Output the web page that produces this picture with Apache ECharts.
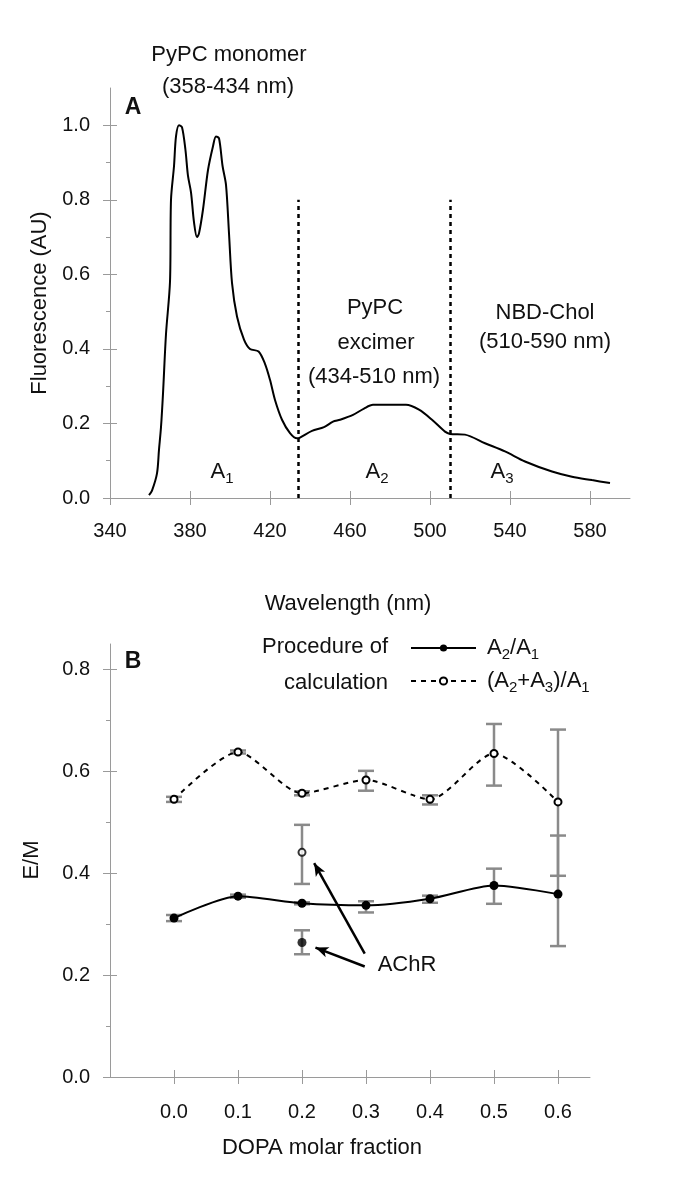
<!DOCTYPE html>
<html>
<head>
<meta charset="utf-8">
<script src="https://cdn.jsdelivr.net/npm/echarts@6/dist/echarts.min.js"></script>
<style>
  html, body { margin: 0; padding: 0; background: #fff; }
  #chart { width: 685px; height: 1182px; }
</style>
</head>
<body>
<div id="chart"></div>
<script>
// ---- panel A : emission spectrum [wavelength (nm), fluorescence (AU)]
var spectrum = [
  [359.5, 0.008], [361, 0.02], [363.5, 0.066], [364.5, 0.13], [365.5, 0.19],
  [366.5, 0.28], [368, 0.44], [370, 0.58], [370.5, 0.80], [372, 0.89],
  [373, 0.97], [374.5, 1.0], [376, 0.995], [377.7, 0.935], [379, 0.864],
  [380.5, 0.82], [382, 0.74], [383.5, 0.70], [384.5, 0.71], [386.5, 0.774],
  [389, 0.88], [391.5, 0.944], [393, 0.97], [394.5, 0.965], [396.3, 0.89],
  [398, 0.84], [399.5, 0.71], [401, 0.577], [403.5, 0.487], [407, 0.425],
  [410, 0.40], [414.3, 0.393], [417.5, 0.36], [420, 0.317], [422.5, 0.263],
  [426, 0.21], [430, 0.174], [433.5, 0.16], [435, 0.162], [441, 0.18],
  [447, 0.19], [451.5, 0.205], [455, 0.21], [461.5, 0.223], [467, 0.24],
  [471.5, 0.25], [480, 0.25], [488, 0.25], [494.5, 0.237], [501, 0.21],
  [507.5, 0.178], [510, 0.172], [517.5, 0.17], [527.5, 0.147], [537.5, 0.125],
  [547.5, 0.098], [561, 0.071], [571, 0.057], [581, 0.048], [590, 0.040]
];
var regionBounds = [434, 510];
var boundTop = 0.8;
var wavelengthTicks = [340, 380, 420, 460, 500, 540, 580];
var fluorTicks = [0, 0.2, 0.4, 0.6, 0.8, 1.0];
var fluorMinor = [0.1, 0.3, 0.5, 0.7, 0.9];

// ---- panel B : E/M vs DOPA molar fraction
var fractions = [0, 0.1, 0.2, 0.3, 0.4, 0.5, 0.6];
var seriesNames = ['A2/A1', '(A2+A3)/A1'];
var ratioA2 = [0.312, 0.355, 0.341, 0.337, 0.350, 0.376, 0.359];
var ratioA2Low = [0.306, 0.352, 0.339, 0.323, 0.342, 0.340, 0.257];
var ratioA2High = [0.318, 0.358, 0.343, 0.345, 0.356, 0.409, 0.474];
var ratioA23 = [0.545, 0.638, 0.557, 0.583, 0.545, 0.635, 0.540];
var ratioA23Low = [0.540, 0.635, 0.553, 0.562, 0.535, 0.572, 0.395];
var ratioA23High = [0.550, 0.641, 0.561, 0.601, 0.553, 0.693, 0.682];
// AChR samples (x, mean, low, high)
var achrA2 = [0.2, 0.264, 0.241, 0.288];
var achrA23 = [0.2, 0.441, 0.379, 0.495];
var achrArrows = [
  [[0.298, 0.242], [0.219, 0.42]],
  [[0.298, 0.217], [0.221, 0.254]]
];
var fractionTicks = [0, 0.1, 0.2, 0.3, 0.4, 0.5, 0.6];
var emTicks = [0, 0.2, 0.4, 0.6, 0.8];
var emMinor = [0.1, 0.3, 0.5, 0.7];

var FONT = '"Liberation Sans", Arial, sans-serif';
var AXIS_COLOR = '#9a9a9a';
var TEXT_COLOR = '#111';

var chart = echarts.init(document.getElementById('chart'), null, { renderer: 'canvas' });

function fmt1(v) { return (+v).toFixed(1); }

// three overlapped y axes per grid: labels + outer tick, inner tick, minor tick
function makeYAxes(gridIndex, min, max, major, minor) {
  var base = { type: 'value', gridIndex: gridIndex, min: min, max: max, position: 'left', offset: 0, splitLine: { show: false } };
  return [
    Object.assign({}, base, {
      axisLine: { show: true, onZero: false, lineStyle: { color: AXIS_COLOR, width: 1 } },
      axisTick: { show: true, customValues: major, length: 7, lineStyle: { color: AXIS_COLOR } },
      axisLabel: { customValues: major, formatter: fmt1, margin: 20, fontSize: 20, color: TEXT_COLOR, fontFamily: FONT }
    }),
    Object.assign({}, base, {
      axisLine: { show: false, onZero: false },
      axisTick: { show: true, inside: true, customValues: major, length: 7, lineStyle: { color: AXIS_COLOR } },
      axisLabel: { show: false }
    }),
    Object.assign({}, base, {
      axisLine: { show: false, onZero: false },
      axisTick: { show: true, customValues: minor, length: 4, lineStyle: { color: AXIS_COLOR } },
      axisLabel: { show: false }
    })
  ];
}

function makeXAxes(gridIndex, min, max, ticks, formatter, margin) {
  var base = { type: 'value', gridIndex: gridIndex, min: min, max: max, position: 'bottom', offset: 0, splitLine: { show: false } };
  return [
    Object.assign({}, base, {
      axisLine: { show: true, onZero: false, lineStyle: { color: AXIS_COLOR, width: 1 } },
      axisTick: { show: true, customValues: ticks, length: 7, lineStyle: { color: AXIS_COLOR } },
      axisLabel: { customValues: ticks, formatter: formatter, margin: margin, fontSize: 20, color: TEXT_COLOR, fontFamily: FONT }
    }),
    Object.assign({}, base, {
      axisLine: { show: false, onZero: false },
      axisTick: { show: true, inside: true, customValues: ticks, length: 7, lineStyle: { color: AXIS_COLOR } },
      axisLabel: { show: false }
    })
  ];
}

function errorBars(xAxisIndex, yAxisIndex, data) {
  return {
    type: 'custom',
    xAxisIndex: xAxisIndex,
    yAxisIndex: yAxisIndex,
    silent: true,
    z: 1,
    encode: { x: 0, y: [1, 2] },
    data: data,
    renderItem: function (params, api) {
      var x = api.value(0);
      var lo = api.coord([x, api.value(1)]);
      var hi = api.coord([x, api.value(2)]);
      var hw = 8;
      var st = { stroke: '#8a8a8a', lineWidth: 2.5, fill: null };
      return {
        type: 'group',
        children: [
          { type: 'line', shape: { x1: lo[0], y1: lo[1], x2: hi[0], y2: hi[1] }, style: st },
          { type: 'line', shape: { x1: lo[0] - hw, y1: lo[1], x2: lo[0] + hw, y2: lo[1] }, style: st },
          { type: 'line', shape: { x1: hi[0] - hw, y1: hi[1], x2: hi[0] + hw, y2: hi[1] }, style: st }
        ]
      };
    }
  };
}

var rich = {
  n: { fontSize: 22, fontFamily: FONT, color: TEXT_COLOR, lineHeight: 28 },
  s: { fontSize: 15, fontFamily: FONT, color: TEXT_COLOR, lineHeight: 17, verticalAlign: 'bottom' }
};
var legendLabels = {
  'A2/A1': '{n|A}{s|2}{n|/A}{s|1}',
  '(A2+A3)/A1': '{n|(A}{s|2}{n|+A}{s|3}{n|)/A}{s|1}'
};

function txt(x, y, text, opt) {
  opt = opt || {};
  return {
    type: 'text',
    x: x, y: y,
    rotation: opt.rotation || 0,
    silent: true,
    style: {
      text: text,
      font: (opt.bold ? 'bold ' : '') + (opt.size || 22) + 'px ' + FONT,
      fill: TEXT_COLOR,
      align: opt.align || 'center',
      verticalAlign: 'middle',
      rich: opt.rich
    }
  };
}

var yA = makeYAxes(0, 0, 1.1, fluorTicks, fluorMinor);
var yB = makeYAxes(1, 0, 0.85, emTicks, emMinor);
var xA = makeXAxes(0, 340, 600, wavelengthTicks, function (v) { return String(v); }, 23);
var xB = makeXAxes(1, -0.1, 0.65, fractionTicks, fmt1, 25);

var option = {
  animation: false,
  backgroundColor: '#fff',
  grid: [
    { left: 110, right: 55, top: 88, bottom: 684 },
    { left: 110, right: 95, top: 644, bottom: 105 }
  ],
  xAxis: xA.concat(xB),
  yAxis: yA.concat(yB),
  legend: {
    data: seriesNames,
    orient: 'vertical',
    left: 405,
    top: 632,
    itemWidth: 65,
    itemHeight: 9,
    itemGap: 8,
    selectedMode: false,
    formatter: function (name) { return legendLabels[name]; },
    textStyle: { fontFamily: FONT, fontSize: 22, color: TEXT_COLOR, padding: [0, 0, 0, 6], rich: rich }
  },
  graphic: [
    txt(229, 55, 'PyPC monomer'),
    txt(228, 87, '(358-434 nm)'),
    txt(133, 108, 'A', { bold: true, size: 23 }),
    txt(375, 308, 'PyPC'),
    txt(376, 343, 'excimer'),
    txt(374, 377, '(434-510 nm)'),
    txt(545, 313, 'NBD-Chol'),
    txt(545, 342, '(510-590 nm)'),
    txt(222, 472, '{n|A}{s|1}', { rich: rich }),
    txt(377, 472, '{n|A}{s|2}', { rich: rich }),
    txt(502, 472, '{n|A}{s|3}', { rich: rich }),
    txt(40, 303, 'Fluorescence (AU)', { rotation: Math.PI / 2 }),
    txt(348, 604, 'Wavelength (nm)'),
    txt(133, 662, 'B', { bold: true, size: 23 }),
    txt(388, 647, 'Procedure of', { align: 'right' }),
    txt(388, 683, 'calculation', { align: 'right' }),
    txt(32, 860, 'E/M', { rotation: Math.PI / 2 }),
    txt(407, 965, 'AChR'),
    txt(322, 1148, 'DOPA molar fraction')
  ],
  series: [
    {
      type: 'line',
      xAxisIndex: 0, yAxisIndex: 0,
      data: spectrum,
      showSymbol: false,
      smooth: 0.3,
      silent: true,
      lineStyle: { color: '#000', width: 2 },
      markLine: {
        silent: true,
        symbol: 'none',
        label: { show: false },
        lineStyle: { color: '#000', width: 2.5, type: [4, 4] },
        data: regionBounds.map(function (b) { return [{ coord: [b, 0] }, { coord: [b, boundTop] }]; })
      }
    },
    errorBars(2, 3, fractions.map(function (x, i) { return [x, ratioA2Low[i], ratioA2High[i]]; })
      .concat(fractions.map(function (x, i) { return [x, ratioA23Low[i], ratioA23High[i]]; }))
      .concat([[achrA2[0], achrA2[2], achrA2[3]], [achrA23[0], achrA23[2], achrA23[3]]])),
    {
      name: seriesNames[0],
      type: 'line',
      xAxisIndex: 2, yAxisIndex: 3,
      data: fractions.map(function (x, i) { return [x, ratioA2[i]]; }),
      symbol: 'circle',
      symbolSize: 9,
      smooth: 0.25,
      z: 3,
      itemStyle: { color: '#000' },
      lineStyle: { color: '#000', width: 2 }
    },
    {
      name: seriesNames[1],
      type: 'line',
      xAxisIndex: 2, yAxisIndex: 3,
      data: fractions.map(function (x, i) { return [x, ratioA23[i]]; }),
      symbol: 'emptyCircle',
      symbolSize: 7,
      smooth: 0.25,
      z: 3,
      itemStyle: { color: '#000', borderWidth: 2 },
      lineStyle: { color: '#000', width: 2, type: [5, 5] }
    },
    {
      type: 'scatter',
      xAxisIndex: 2, yAxisIndex: 3,
      symbol: 'circle',
      symbolSize: 9,
      z: 3,
      silent: true,
      itemStyle: { color: '#000' },
      data: [[achrA2[0], achrA2[1]]],
      markLine: {
        silent: true,
        symbol: ['none', 'arrow'],
        symbolSize: [8, 13],
        label: { show: false },
        lineStyle: { color: '#000', width: 2.5, type: 'solid' },
        data: achrArrows.map(function (a) { return [{ coord: a[0] }, { coord: a[1] }]; })
      }
    },
    {
      type: 'scatter',
      xAxisIndex: 2, yAxisIndex: 3,
      symbol: 'emptyCircle',
      symbolSize: 7,
      z: 3,
      silent: true,
      itemStyle: { color: '#000', borderWidth: 2 },
      data: [[achrA23[0], achrA23[1]]]
    }
  ]
};

chart.setOption(option);
</script>
</body>
</html>
